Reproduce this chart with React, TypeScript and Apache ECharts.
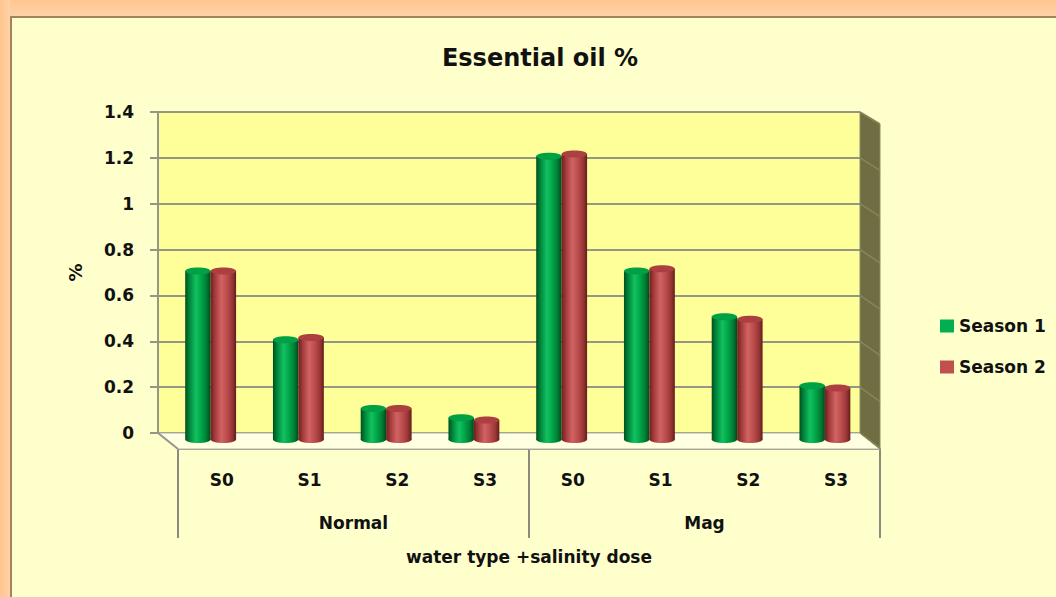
import React, { useEffect, useRef } from "react";
import * as echarts from "echarts";

const categories = ["S0", "S1", "S2", "S3", "S0", "S1", "S2", "S3"];
const groups = ["Normal", "Mag"];
const seriesNames = ["Season 1", "Season 2"];
const season1 = [0.7, 0.4, 0.1, 0.06, 1.2, 0.7, 0.5, 0.2];
const season2 = [0.7, 0.41, 0.1, 0.05, 1.21, 0.71, 0.49, 0.19];
const yTicks = [0, 0.2, 0.4, 0.6, 0.8, 1, 1.2, 1.4];

const FONT = "'DejaVu Sans', sans-serif";

const palettes = [
  {
    legend: "#00b050",
    body: [
      [0, "#004f20"],
      [0.18, "#008a3c"],
      [0.42, "#13c060"],
      [0.62, "#00a84a"],
      [0.85, "#007a33"],
      [1, "#00481c"],
    ],
    cap: "#00a044",
  },
  {
    legend: "#c0504d",
    body: [
      [0, "#6e1f1f"],
      [0.18, "#a63c3c"],
      [0.42, "#d06363"],
      [0.62, "#bf4f4f"],
      [0.85, "#993636"],
      [1, "#641c1c"],
    ],
    cap: "#ac4040",
  },
];

function makeRender(side: number) {
  const pal = palettes[side];
  return (params: any, api: any) => {
    const idx = api.value(0);
    const v = api.value(1);
    const top = api.coord([idx, v]);
    const base = api.coord([idx, 0]);
    const band = api.size([1, 0])[0];
    const w = band * 0.29;
    const center = top[0] + band * 0.1;
    const left = side === 0 ? center - w : center;
    const ry = 3.5;
    const topC = top[1] - 5 + ry;
    const botC = base[1] + 10 - ry;
    const grad = new echarts.graphic.LinearGradient(
      0,
      0,
      1,
      0,
      pal.body.map(([o, c]) => ({ offset: o as number, color: c as string }))
    );
    return {
      type: "group",
      children: [
        {
          type: "ellipse",
          shape: { cx: left + w / 2, cy: botC, rx: w / 2, ry },
          style: { fill: grad },
        },
        {
          type: "rect",
          shape: { x: left, y: topC, width: w, height: Math.max(0, botC - topC) },
          style: { fill: grad },
        },
        {
          type: "ellipse",
          shape: { cx: left + w / 2, cy: topC, rx: w / 2, ry },
          style: { fill: pal.cap },
        },
      ],
    };
  };
}

export default function App() {
  const ref = useRef<HTMLDivElement>(null);

  useEffect(() => {
    if (!ref.current) return;
    const chart = echarts.init(ref.current, undefined, { renderer: "svg" });

    const wallLeft = 158;
    const wallRight = 860;
    const wallTop = 112;
    const wallBottom = 433;
    const unit = (wallBottom - wallTop) / 1.4;

    const sideLines = yTicks.map((t) => {
      const y = wallBottom - t * unit;
      const dy = 15 - 3 * (t / 1.4);
      return {
        type: "line",
        z: 2,
        shape: { x1: wallRight, y1: y, x2: 880, y2: y + dy },
        style: { stroke: "#878657", lineWidth: 1.5 },
      };
    });

    chart.setOption({
      animation: false,
      backgroundColor: "#FFFFCC",
      textStyle: { fontFamily: FONT },
      legend: {
        orient: "vertical",
        left: 935,
        top: 311,
        itemWidth: 14,
        itemHeight: 13,
        itemGap: 21,
        icon: "rect",
        data: seriesNames,
        textStyle: {
          fontFamily: FONT,
          fontSize: 17,
          fontWeight: "bold",
          color: "#111",
          lineHeight: 20,
        },
      },
      grid: [
        {
          left: wallLeft,
          right: 1056 - wallRight,
          top: wallTop,
          bottom: 597 - wallBottom,
          show: true,
          backgroundColor: "#FFFF99",
          borderWidth: 0,
        },
        {
          left: 178,
          right: 1056 - 880,
          top: 300,
          bottom: 597 - 449,
          show: false,
        },
      ],
      xAxis: [
        {
          type: "category",
          gridIndex: 0,
          data: categories,
          show: false,
        },
        {
          type: "category",
          gridIndex: 1,
          data: categories,
          position: "bottom",
          axisLine: { show: false },
          axisTick: { show: false },
          axisLabel: {
            margin: 22,
            fontFamily: FONT,
            fontSize: 17,
            fontWeight: "bold",
            color: "#111",
            interval: 0,
          },
        },
        {
          type: "category",
          gridIndex: 1,
          data: groups,
          position: "bottom",
          axisLine: { show: true, lineStyle: { color: "#9a9a8a", width: 2 } },
          axisTick: {
            show: true,
            length: 89,
            lineStyle: { color: "#8a8a80", width: 2 },
          },
          axisLabel: {
            margin: 65,
            fontFamily: FONT,
            fontSize: 17,
            fontWeight: "bold",
            color: "#111",
            interval: 0,
          },
          name: "water type +salinity dose",
          nameLocation: "middle",
          nameGap: 99,
          nameTextStyle: {
            fontFamily: FONT,
            fontSize: 17,
            fontWeight: "bold",
            color: "#111",
          },
        },
      ],
      yAxis: [
        {
          type: "value",
          gridIndex: 0,
          min: 0,
          max: 1.4,
          interval: 0.2,
          axisLine: { show: true, lineStyle: { color: "#969686", width: 2 } },
          axisTick: {
            show: true,
            inside: false,
            length: 8,
            lineStyle: { color: "#969686", width: 2 },
          },
          splitLine: { show: true, lineStyle: { color: "#969686", width: 2 } },
          axisLabel: {
            margin: 24,
            fontFamily: FONT,
            fontSize: 17,
            fontWeight: "bold",
            color: "#111",
          },
          name: "%",
          nameLocation: "middle",
          nameGap: 74,
          nameRotate: 90,
          nameTextStyle: {
            fontFamily: FONT,
            fontSize: 18,
            fontWeight: "bold",
            color: "#111",
          },
        },
        { type: "value", gridIndex: 1, show: false },
      ],
      graphic: [
        // outer frame
        {
          type: "rect",
          z: 0,
          shape: { x: 0, y: 0, width: 1056, height: 16 },
          style: {
            fill: new echarts.graphic.LinearGradient(0, 0, 0, 1, [
              { offset: 0, color: "#FFC590" },
              { offset: 1, color: "#FFD2A6" },
            ]),
          },
        },
        {
          type: "rect",
          z: 0,
          shape: { x: 0, y: 0, width: 10, height: 597 },
          style: {
            fill: new echarts.graphic.LinearGradient(0, 0, 1, 0, [
              { offset: 0, color: "#FFC590" },
              { offset: 1, color: "#FFD2A6" },
            ]),
          },
        },
        {
          type: "polyline",
          z: 0,
          shape: { points: [[11, 597], [11, 17], [1056, 17]] },
          style: { stroke: "#A4825F", lineWidth: 2, fill: null },
        },
        // floor
        {
          type: "polygon",
          z: 1,
          shape: {
            points: [
              [wallLeft, wallBottom],
              [wallRight, wallBottom],
              [880, 449],
              [178, 449],
            ],
          },
          style: { fill: "#FFFFE2", stroke: "#b4b4a0", lineWidth: 1 },
        },
        {
          type: "polyline",
          z: 1,
          shape: { points: [[150, wallBottom], [wallLeft, wallBottom], [178, 449]] },
          style: { stroke: "#969686", lineWidth: 2, fill: null },
        },
        // side wall
        {
          type: "polygon",
          z: 1,
          shape: {
            points: [
              [wallRight, wallTop],
              [880, 124],
              [880, 449],
              [wallRight, wallBottom],
            ],
          },
          style: { fill: "#6f6e42", stroke: "#8a8a70", lineWidth: 1 },
        },
        ...sideLines,
        // title
        {
          type: "text",
          z: 5,
          x: 540,
          y: 58,
          style: {
            text: "Essential oil %",
            align: "center",
            verticalAlign: "middle",
            font: `bold 24px ${FONT}`,
            fill: "#111",
          },
        },
      ],
      series: [season1, season2].map((vals, s) => ({
        type: "custom",
        name: seriesNames[s],
        xAxisIndex: 0,
        yAxisIndex: 0,
        z: 3,
        itemStyle: { color: palettes[s].legend },
        renderItem: makeRender(s),
        encode: { x: 0, y: 1 },
        data: vals.map((v, i) => [i, v]),
      })),
    });

    return () => chart.dispose();
  }, []);

  return (
    <div
      ref={ref}
      style={{ position: "fixed", left: 0, top: 0, width: 1056, height: 597 }}
    />
  );
}
